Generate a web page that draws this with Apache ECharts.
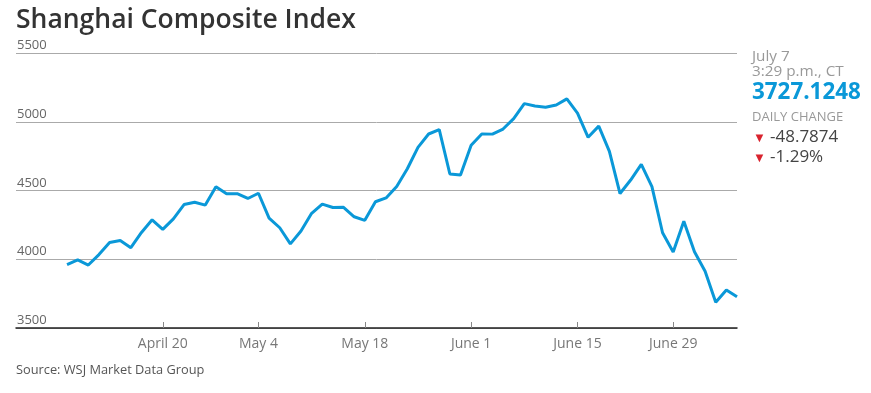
<!DOCTYPE html>
<html>
<head>
<meta charset="utf-8">
<script src="https://cdn.jsdelivr.net/npm/echarts@6/dist/echarts.min.js"></script>
<style>
html,body{margin:0;padding:0;background:#fff;}
#chart{width:871px;height:393px;}
</style>
</head>
<body>
<div id="chart"></div>
<script>
var dates = [
 'Apr 7','Apr 8','Apr 9','Apr 10','Apr 13','Apr 14','Apr 15','Apr 16','Apr 17',
 'April 20','Apr 21','Apr 22','Apr 23','Apr 24','Apr 27','Apr 28','Apr 29','Apr 30',
 'May 4','May 5','May 6','May 7','May 8','May 11','May 12','May 13','May 14','May 15',
 'May 18','May 19','May 20','May 21','May 22','May 25','May 26','May 27','May 28','May 29',
 'June 1','June 2','June 3','June 4','June 5','June 8','June 9','June 10','June 11','June 12',
 'June 15','June 16','June 17','June 18','June 19','June 23','June 24','June 25','June 26',
 'June 29','June 30','July 1','July 2','July 3','July 6','July 7'
];
var closes = [
 3961,3995,3958,4034,4122,4136,4084,4195,4287,
 4217,4294,4398,4415,4394,4527,4476,4477,4442,
 4480,4299,4229,4112,4206,4334,4401,4376,4378,4309,
 4283,4418,4446,4529,4658,4814,4911,4942,4620,4612,
 4829,4911,4910,4947,5023,5132,5114,5106,5122,5166,
 5063,4887,4968,4785,4478,4576,4690,4528,4193,
 4053,4277,4054,3913,3687,3776,3727
];
var tickLabels = ['April 20','May 4','May 18','June 1','June 15','June 29'];
var yTicks = [3500,4000,4500,5000,5500];
var titleText = 'Shanghai Composite Index';
var sourceText = 'Source: WSJ Market Data Group';
var infoDate = 'July 7';
var infoTime = '3:29 p.m., CT';
var infoValue = '3727.1248';
var infoChangeLabel = 'DAILY CHANGE';
var infoChange = '-48.7874';
var infoPct = '-1.29%';

var tickIdx = tickLabels.map(function(t){return dates.indexOf(t);});
var seriesData = closes.map(function(v,i){return [i,v];});

var chart = echarts.init(document.getElementById('chart'), null, {renderer:'canvas'});
var FONT = '"Open Sans", "Noto Sans", sans-serif';
var BLUE = '#0a98d8';
var RED = '#d9232e';

function txt(x,y,text,size,color,weight){
  return {type:'text', x:x, y:y, style:{text:text, fontFamily:FONT, fontSize:size, fill:color, fontWeight:weight||'normal', verticalAlign:'middle', align:'left'}};
}

chart.setOption({
  animation:false,
  backgroundColor:'#fff',
  grid:{left:16, right:134, top:53, bottom:65},
  xAxis:{
    type:'value',
    min:-4.8, max:dates.length-1,
    axisLine:{show:true, onZero:false, lineStyle:{color:'#222', width:1.5}},
    axisTick:{show:true, inside:true, length:6, lineStyle:{color:'#888'}, customValues:tickIdx},
    axisLabel:{
      customValues:tickIdx,
      formatter:function(v){return dates[Math.round(v)];},
      color:'#777', fontFamily:FONT, fontSize:14, margin:9
    },
    splitLine:{show:false}
  },
  yAxis:{
    type:'value', min:3500, max:5500, interval:500,
    position:'left',
    axisLine:{show:false}, axisTick:{show:false},
    axisLabel:{
      inside:true, color:'#666', fontFamily:FONT, fontSize:13,
      verticalAlign:'bottom', align:'left', margin:1, padding:[0,0,1,0],
      formatter:function(v){return yTicks.indexOf(v)>=0 ? String(v) : '';}
    },
    splitLine:{show:true, lineStyle:{color:'#aaa', width:1}}
  },
  series:[{
    type:'line', data:seriesData, symbol:'none',
    lineStyle:{color:BLUE, width:3}, itemStyle:{color:BLUE}
  }],
  graphic:[
    txt(16,20,titleText,26.5,'#333',600),
    txt(16,370,sourceText,12.8,'#555'),
    txt(752,57,infoDate,15.3,'#999'),
    txt(752,72,infoTime,15.3,'#999'),
    txt(752,93,infoValue,22.4,BLUE,'bold'),
    txt(752,117,infoChangeLabel,13,'#999'),
    txt(753,138,'▼',13,RED),
    txt(770,137,infoChange,17,'#444'),
    txt(753,158,'▼',13,RED),
    txt(770,157,infoPct,17,'#444')
  ]
});
</script>
</body>
</html>
